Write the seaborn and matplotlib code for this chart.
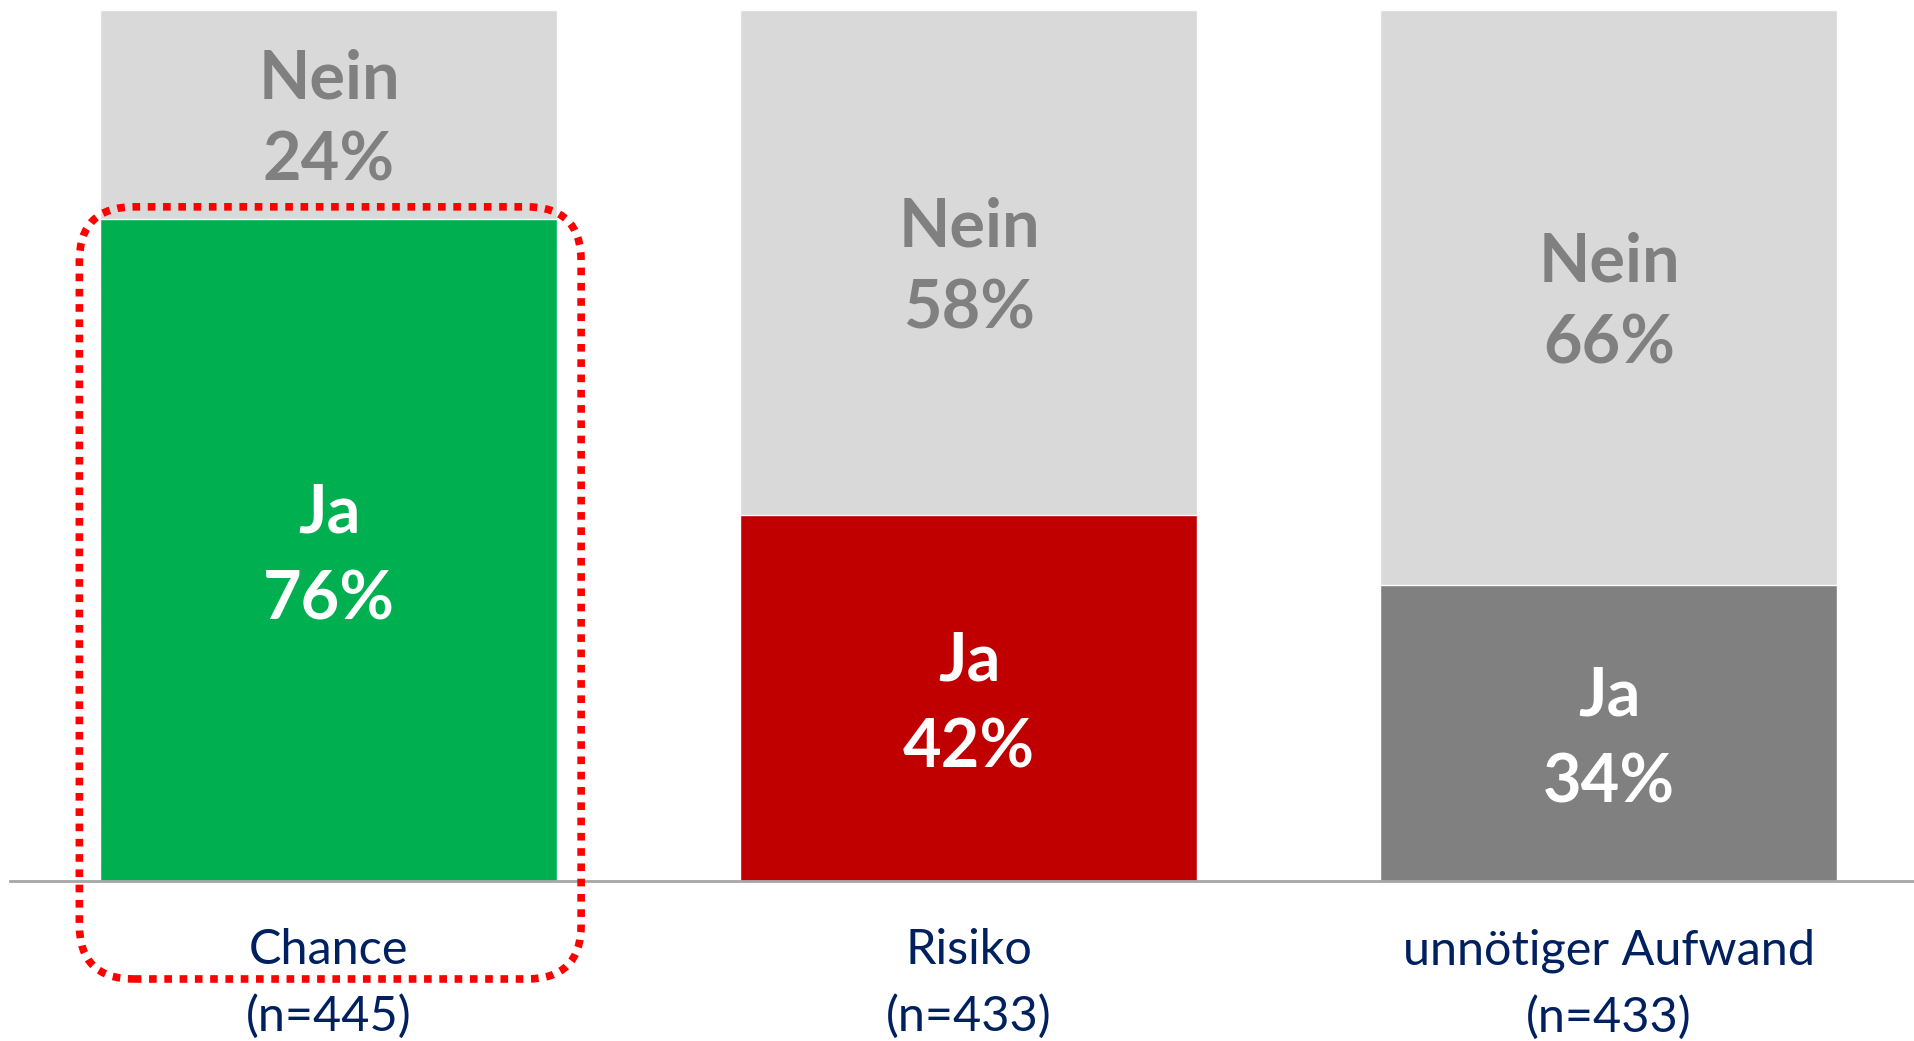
import matplotlib
matplotlib.use("Agg")
import matplotlib.pyplot as plt
from matplotlib.patches import FancyBboxPatch
import seaborn as sns
import pandas as pd

# data
categories = ["Chance", "Risiko", "unnötiger Aufwand"]
sample_sizes = [445, 433, 433]
ja_values = [76, 42, 34]
nein_values = [24, 58, 66]
ja_colors = ["#00B050", "#C00000", "#808080"]

df = pd.DataFrame({
    "Kategorie": categories,
    "Ja": ja_values,
    "Nein": nein_values,
})
df["Gesamt"] = df["Ja"] + df["Nein"]

sns.set_style("white")
plt.rcParams["font.family"] = ["Lato", "DejaVu Sans"]

fig = plt.figure(figsize=(19.14, 10.41), dpi=100)
ax = fig.add_axes([10 / 1914, 0.1537, 1 - 10 / 1914, 0.8367])

bar_width = 0.714

# grey "Nein" background (full stack), then the coloured "Ja" part on top
sns.barplot(data=df, x="Kategorie", y="Gesamt", color="#D9D9D9",
            saturation=1, width=bar_width, ax=ax)
sns.barplot(data=df, x="Kategorie", y="Ja", hue="Kategorie",
            palette=dict(zip(categories, ja_colors)), saturation=1,
            width=bar_width, legend=False, ax=ax)

ax.set_xlim(-0.4984, 2.4766)
ax.set_ylim(0, 100)

# segment labels
for i, (ja, nein) in enumerate(zip(ja_values, nein_values)):
    ax.text(i, ja / 2 - 0.8, f"Ja\n{ja}%", ha="center", va="center",
            fontsize=48, fontweight="bold", color="white", linespacing=1.5)
    ax.text(i, ja + nein / 2 - 0.7, f"Nein\n{nein}%", ha="center", va="center",
            fontsize=48, fontweight="bold", color="#808080", linespacing=1.4)

# category labels below the baseline
ax.set_xticks(range(len(categories)))
ax.set_xticklabels([f"{c}\n(n={n})" for c, n in zip(categories, sample_sizes)],
                   fontsize=35, color="#002060", linespacing=1.6)
ax.tick_params(axis="x", length=0, pad=34)
ax.set_yticks([])
ax.set_xlabel("")
ax.set_ylabel("")

for side in ["top", "left", "right"]:
    ax.spines[side].set_visible(False)
ax.spines["bottom"].set_color("#A6A6A6")
ax.spines["bottom"].set_linewidth(2)

# red dotted highlight around the first bar
x_px = 640  # pixels per category unit
y_px = 8.71  # pixels per percent
highlight = FancyBboxPatch(
    (-0.39, -11.25), 0.784, 88.65,
    boxstyle="round,pad=0,rounding_size=0.085",
    mutation_aspect=x_px / y_px,
    fill=False, edgecolor="#FF0000", linewidth=5.5,
    linestyle=(0, (1, 1)), clip_on=False, zorder=5,
)
ax.add_patch(highlight)

fig.savefig("out.png", dpi=100)
